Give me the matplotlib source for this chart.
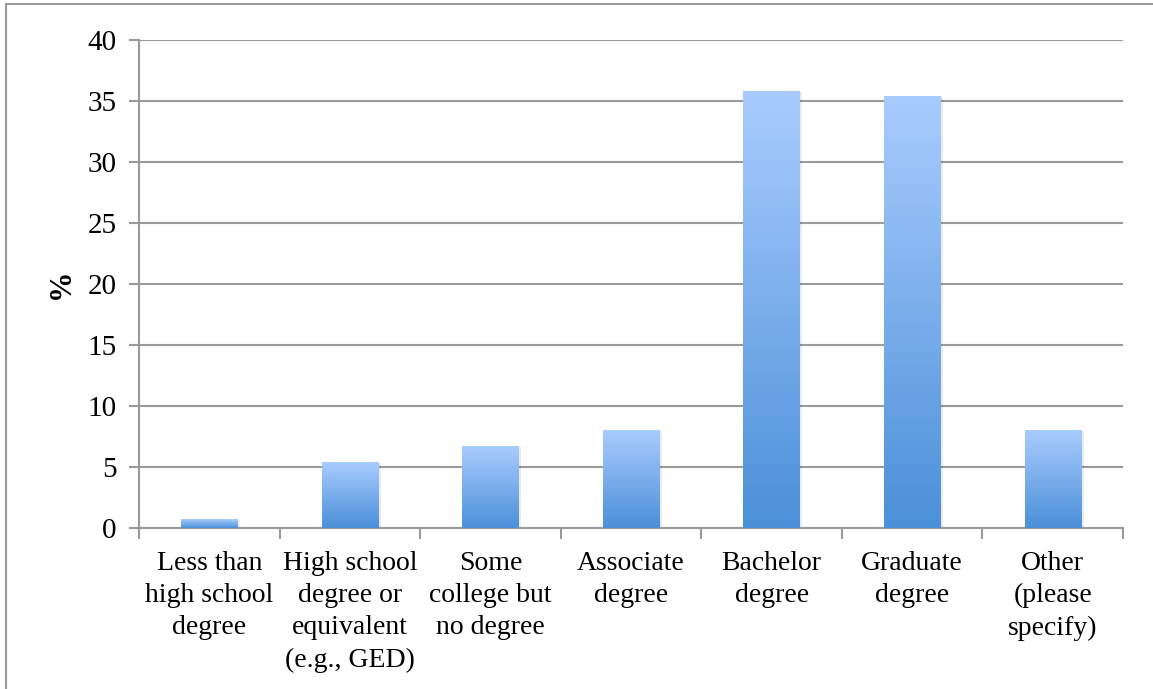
import numpy as np
import matplotlib.pyplot as plt
from matplotlib.colors import LinearSegmentedColormap
from matplotlib.patches import Rectangle

# Data
categories = ['Less than\nhigh school\ndegree', 'High school\ndegree or\nequivalent\n(e.g., GED)',
              'Some\ncollege but\nno degree', 'Associate\ndegree', 'Bachelor\ndegree',
              'Graduate\ndegree', 'Other\n(please\nspecify)']
values = [0.7, 5.4, 6.7, 8.0, 35.8, 35.4, 8.0]
yticks = [0, 5, 10, 15, 20, 25, 30, 35, 40]

plt.rcParams['font.family'] = ['Liberation Serif', 'DejaVu Serif']

fig = plt.figure(figsize=(11.53, 6.89), dpi=100)
ax = fig.add_axes([139 / 1153, 1 - 527.7 / 689, (1123 - 139) / 1153, (527.7 - 39.7) / 689])

# outer frame (partly cut off, as in the screenshot)
fig.patches.append(Rectangle((5.5 / 1153, -0.1), 1.2, 1 - 4.5 / 689 + 0.1,
                             transform=fig.transFigure, fill=False,
                             edgecolor='#9a9a9a', linewidth=1.5))

cmap = LinearSegmentedColormap.from_list('bar', ['#4b90d9', '#a9ccfe'])
grad = np.linspace(0, 1, 256).reshape(-1, 1)

x = np.arange(len(categories))
width = 0.4
bars = ax.bar(x, values, width=width, color='none', zorder=3)
for b in bars:
    x0, y0 = b.get_x(), b.get_y()
    w, h = b.get_width(), b.get_height()
    # soft shadow
    ax.add_patch(Rectangle((x0 + 0.02, y0), w, h - 0.1, facecolor='#000000',
                           alpha=0.08, edgecolor='none', zorder=2))
    ax.imshow(grad, extent=[x0, x0 + w, y0, y0 + h], origin='lower',
              cmap=cmap, aspect='auto', zorder=3)

ax.set_xlim(-0.5, len(categories) - 0.5)
ax.set_ylim(0, 40)
ax.set_yticks(yticks)
ax.yaxis.grid(True, color='#9a9a9a', linewidth=1.5, zorder=0)
ax.set_axisbelow(True)

for s in ['top', 'right']:
    ax.spines[s].set_visible(False)
for s in ['left', 'bottom']:
    ax.spines[s].set_color('#9a9a9a')
    ax.spines[s].set_linewidth(1.5)

ax.tick_params(axis='y', length=7, width=1.5, color='#9a9a9a', labelsize=21, pad=9)
ax.set_xticks(np.arange(len(categories) + 1) - 0.5)
ax.set_xticklabels([])
ax.tick_params(axis='x', length=8, width=1.5, color='#9a9a9a')

for i, lab in enumerate(categories):
    ax.text(i, -1.9, lab, ha='center', va='top', fontsize=20, linespacing=1.38)

ax.set_ylabel('%', fontsize=22, fontweight='bold')
ax.yaxis.set_label_coords(-0.064, 0.5)

fig.savefig('out.png', dpi=100)
